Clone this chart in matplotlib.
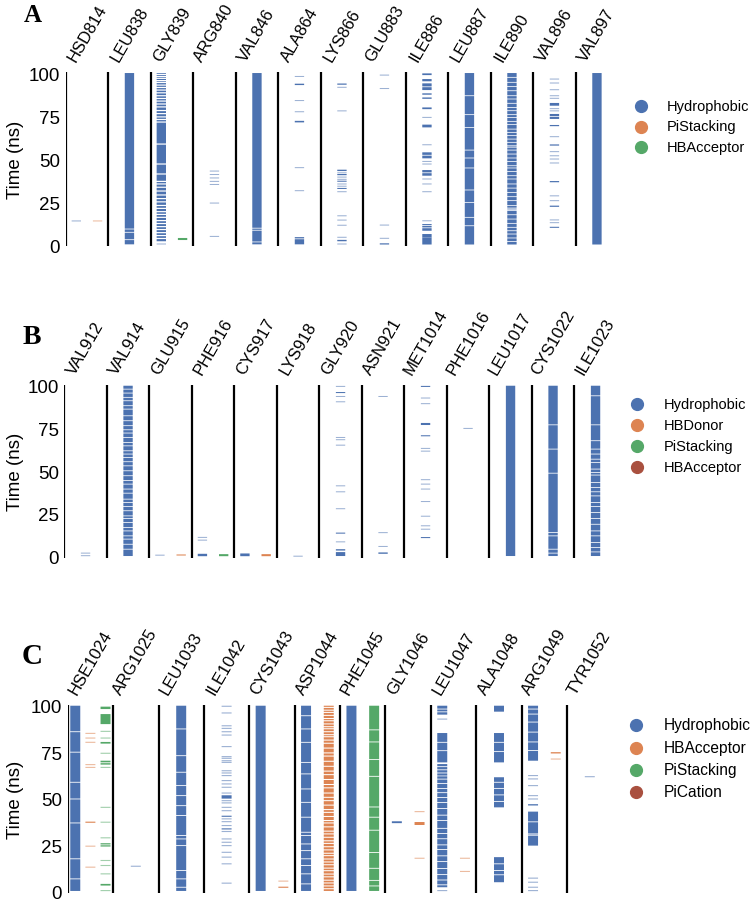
import matplotlib
matplotlib.use('Agg')
import matplotlib.pyplot as plt
from matplotlib.lines import Line2D

plt.rcParams['font.family'] = ['Liberation Sans', 'DejaVu Sans']

W, H = 756, 904
PALETTE = ['#4C72B0', '#DD8452', '#55A868', '#A9503F']
GAP = 0.45     # ns, width of a white gap inside a run
SINGLE = 0.6   # ns, height of a single-frame line

# ---------------- panel A ----------------
A_residues = ['HSD814', 'LEU838', 'GLY839', 'ARG840', 'VAL846', 'ALA864', 'LYS866',
              'GLU883', 'ILE886', 'LEU887', 'ILE890', 'VAL896', 'VAL897']
A_types = ['Hydrophobic', 'PiStacking', 'HBAcceptor']
A_events = {
    'HSD814': {'Hydrophobic': [14.0], 'PiStacking': [14.0]},
    'LEU838': {'Hydrophobic': [(0.4, 100)]},
    'GLY839': {'Hydrophobic': [0.6, (2.2, 100)], 'HBAcceptor': [(2.9, 4.1)]},
    'ARG840': {'Hydrophobic': [43.0, 41.0, 39.0, 37.0, 35.2, 24.4, 5.0]},
    'VAL846': {'Hydrophobic': [(0.4, 100)]},
    'ALA864': {'Hydrophobic': [98.0, (93.0, 93.8), 84.0, 77.5, (71.3, 72.2), 45.0, 31.6, (0.4, 4.6)]},
    'LYS866': {'Hydrophobic': [(93.2, 93.9), 91.7, 78.0, (43.0, 43.8), 42.0, (40.6, 41.3), 39.5, 38.2,
                               (36.8, 37.4), 35.5, 34.2, (32.6, 33.2), 31.0, 17.0, 14.5, 11.5, 4.5,
                               (2.2, 3.0), 0.6]},
    'GLU883': {'Hydrophobic': [98.8, 91.0, 11.6, 3.9, (0.3, 1.0)]},
    'ILE886': {'Hydrophobic': [(98.8, 99.8), (95.2, 96.5), (90.1, 94.0), (87.4, 88.2), (85.0, 85.8),
                               (79.0, 80.0), 74.2, (68.4, 70.0), 58.3, (50.4, 53.9), 48.6, 47.1,
                               (40.3, 43.6), 38.4, 35.5, 31.0, 14.1, (8.3, 12.2), (4.4, 6.4), (0.3, 4.4)]},
    'LEU887': {'Hydrophobic': [(0.3, 100)]},
    'ILE890': {'Hydrophobic': [(0.3, 100)]},
    'VAL896': {'Hydrophobic': [96.5, 94.2, 90.3, 86.8, 85.3, (81.0, 82.6), 79.3, 78.0, (73.3, 76.2),
                               (69.1, 69.8), 63.0, (57.8, 58.5), 54.3, 51.9, 50.0, 47.7, (36.5, 37.2),
                               28.6, 25.8, (22.2, 22.9), 14.6, 13.0, (10.0, 10.6)]},
    'VAL897': {'Hydrophobic': [(0.3, 100)]},
}
A_gaps = {
    ('LEU838', 'Hydrophobic'): [9.3, 7.4, 3.1],
    ('GLY839', 'Hydrophobic'): [99.2, 98.0, 96.9, 95.6, 94.5, 93.0, 91.6, 90.1, 88.5, 86.8, 85.2,
                                83.7, 82.0, 80.3, 78.2, 76.4, 74.5, 73.0, 71.5, 58.7, 47.1, 41.3,
                                37.0, 35.5, 33.6, 31.4, 29.1, 27.0, 25.1, 23.0, 21.3, 19.4, 17.8,
                                16.1, 14.2, 12.5, 10.7, 9.0, 7.2, 5.5, 3.8],
    ('VAL846', 'Hydrophobic'): [9.8, 8.6, 1.8],
    ('ALA864', 'Hydrophobic'): [3.6],
    ('ILE886', 'Hydrophobic'): [92.0, 52.2, 42.0, 10.0, 11.3],
    ('LEU887', 'Hydrophobic'): [86.8, 75.8, 68.4, 55.2, 50.6, 44.8, 32.0, 24.8, 16.1, 11.2],
    ('ILE890', 'Hydrophobic'): [97.5, 94.6, 92.1, 89.7, 86.8, 84.9, 82.4, 80.0, 78.1, 75.8, 74.2,
                                71.9, 70.0, 67.4, 65.5, 63.6, 61.6, 59.7, 57.7, 56.9, 55.2, 52.9,
                                50.6, 48.6, 46.1, 44.8, 42.8, 40.3, 38.4, 35.5, 33.1, 30.6, 28.1,
                                25.8, 22.9, 21.5, 20.8, 20.0, 17.6, 15.1, 12.6, 10.3, 8.3, 6.4,
                                4.1, 2.1],
    ('VAL896', 'Hydrophobic'): [74.8],
}

# ---------------- panel B ----------------
B_residues = ['VAL912', 'VAL914', 'GLU915', 'PHE916', 'CYS917', 'LYS918', 'GLY920',
              'ASN921', 'MET1014', 'PHE1016', 'LEU1017', 'CYS1022', 'ILE1023']
B_types = ['Hydrophobic', 'HBDonor', 'PiStacking', 'HBAcceptor']
B_events = {
    'VAL912': {'Hydrophobic': [2.0, 0.5]},
    'VAL914': {'Hydrophobic': [(0.3, 100)]},
    'GLU915': {'Hydrophobic': [0.8], 'HBDonor': [(0.6, 1.2)]},
    'PHE916': {'Hydrophobic': [11.2, 9.6, (0.2, 1.6)], 'PiStacking': [(0.2, 1.4)]},
    'CYS917': {'Hydrophobic': [(0.2, 1.8)], 'HBDonor': [(0.2, 1.4)]},
    'LYS918': {'Hydrophobic': [0.2]},
    'GLY920': {'Hydrophobic': [99.6, (95.7, 96.3), 93.7, 90.6, 69.7, 68.4, 65.2, 41.4, 37.9, 28.0,
                               (13.4, 14.0), 8.6, (3.5, 4.3), (0.3, 2.6)]},
    'ASN921': {'Hydrophobic': [93.7, 14.0, 5.9, (1.6, 2.4)]},
    'MET1014': {'Hydrophobic': [(99.3, 99.9), 92.8, 89.5, (77.0, 78.2), (70.4, 71.0), 63.3, 61.7,
                                45.0, 42.4, 39.5, 32.2, 23.6, 18.0, 16.0, (10.8, 11.4)]},
    'PHE1016': {'Hydrophobic': [75.0]},
    'LEU1017': {'Hydrophobic': [(0.3, 100)]},
    'CYS1022': {'Hydrophobic': [(0.3, 100)]},
    'ILE1023': {'Hydrophobic': [(0.3, 100)]},
}
B_gaps = {
    ('VAL914', 'Hydrophobic'): [98.0, 95.7, 93.2, 91.2, 88.3, 86.3, 82.4, 79.5, 76.6, 74.2, 72.3,
                                69.7, 66.8, 64.8, 61.9, 60.0, 58.0, 55.5, 53.1, 50.2, 47.3, 44.5,
                                42.4, 39.5, 37.1, 33.6, 31.6, 29.3, 26.8, 23.8, 22.3, 19.9, 17.0,
                                15.0, 12.1, 10.2, 7.2, 4.3],
    ('CYS1022', 'Hydrophobic'): [77.1, 62.9, 48.8, 14.1, 12.1, 4.3, 2.0],
    ('ILE1023', 'Hydrophobic'): [94.1, 77.1, 67.8, 62.9, 60.0, 57.0, 55.1, 51.2, 49.2, 47.7, 43.4,
                                 40.4, 37.9, 35.5, 31.6, 29.3, 25.8, 22.3, 18.9, 15.0, 12.1, 8.2,
                                 5.3, 2.7],
}

# ---------------- panel C ----------------
C_residues = ['HSE1024', 'ARG1025', 'LEU1033', 'ILE1042', 'CYS1043', 'ASP1044', 'PHE1045',
              'GLY1046', 'LEU1047', 'ALA1048', 'ARG1049', 'TYR1052']
C_types = ['Hydrophobic', 'HBAcceptor', 'PiStacking', 'PiCation']
C_events = {
    'HSE1024': {'Hydrophobic': [(0.3, 100)],
                'HBAcceptor': [85.1, 82.6, 80.3, 68.3, 66.8, (37.0, 37.6), 24.4, 13.1],
                'PiStacking': [(98.2, 99.5), (90.1, 95.5), 86.2, 82.6, (79.6, 80.5), 74.4,
                               (68.3, 70.4), 66.8, 45.3, 37.3, 28.9, (24.2, 26.0), 16.7, 14.0, 9.5,
                               (3.2, 4.1), 0.5]},
    'ARG1025': {'Hydrophobic': [13.6]},
    'LEU1033': {'Hydrophobic': [(0.3, 100)]},
    'ILE1042': {'Hydrophobic': [99.7, 96.1, 89.2, 87.8, 86.0, 84.2, 78.0, 72.6, 71.7, 70.4, 69.5,
                                65.0, 63.8, 62.4, 59.7, 57.9, 56.1, 53.0, (50.0, 51.8), 48.9, 47.7,
                                45.3, 43.5, (40.2, 40.8), 39.1, 37.6, 35.5, (33.4, 34.0), 32.3,
                                28.3, 26.5, 24.7, 21.1, 18.5, 14.9, 4.5]},
    'CYS1043': {'Hydrophobic': [(0.3, 100)], 'HBAcceptor': [5.6, (2.0, 2.6)]},
    'ASP1044': {'Hydrophobic': [(0.3, 100)], 'HBAcceptor': [(0.3, 100)]},
    'PHE1045': {'Hydrophobic': [(0.3, 100)], 'PiStacking': [(0.3, 100)]},
    'GLY1046': {'Hydrophobic': [(36.8, 37.8)], 'HBAcceptor': [43.0, (35.8, 37.4), 17.9]},
    'LEU1047': {'Hydrophobic': [(95.2, 100), 92.8, (69.5, 85.3), (62.4, 68.6), (2.3, 62.0), 0.5],
                'HBAcceptor': [17.9, 10.8]},
    'ALA1048': {'Hydrophobic': [(96.8, 100), (69.5, 85.3), (45.3, 61.5), (5.0, 18.5)]},
    'ARG1049': {'Hydrophobic': [(70.4, 100), 62.4, 60.6, 57.0, 51.6, 49.8, (46.3, 47.0),
                                (24.7, 43.0), 7.2, 5.0, 2.3, 0.5],
                'HBAcceptor': [(74.3, 75.0), 71.3]},
    'TYR1052': {'Hydrophobic': [61.8]},
}
C_gaps = {
    ('HSE1024', 'Hydrophobic'): [86.0, 75.0, 58.8, 49.8, 36.9, 17.6, 6.8],
    ('HSE1024', 'PiStacking'): [69.3, 25.1],
    ('LEU1033', 'Hydrophobic'): [87.5, 73.1, 64.2, 57.0, 51.6, 46.2, 40.9, 30.1, 28.3, 24.7,
                                 11.3, 6.8, 2.3],
    ('ASP1044', 'Hydrophobic'): [94.6, 87.5, 80.3, 69.5, 63.3, 55.2, 48.0, 40.0, 31.9, 30.1,
                                 25.6, 22.0, 17.6, 14.0, 9.5, 4.1],
    ('ASP1044', 'HBAcceptor'): [99.1, 97.6, 96.4, 94.8, 93.1, 91.9, 90.2, 88.7, 87.6, 86.0, 84.4,
                                83.3, 81.5, 79.8, 77.2, 74.6, 72.9, 70.1, 67.4, 64.8, 62.9, 60.3,
                                57.6, 55.8, 53.0, 50.7, 48.9, 46.5, 44.1, 42.6, 40.4, 38.2, 36.9,
                                34.8, 32.5, 31.0, 29.2, 27.3, 25.9, 24.1, 22.4, 20.6, 19.3, 17.5,
                                15.9, 14.4, 12.6, 11.2, 9.4, 7.9, 6.1, 4.6, 3.0, 1.5],
    ('PHE1045', 'PiStacking'): [87.0, 80.5, 71.0, 62.0, 45.5, 40.0, 33.0, 21.0, 12.5, 6.0, 3.0],
    ('LEU1047', 'Hydrophobic'): [98.2, 96.7, 80.3, 75.8, 67.2, 65.5, 63.8, 60.5, 58.1, 55.4, 53.2,
                                 50.6, 47.9, 44.7, 41.1, 38.2, 34.0, 31.2, 28.4, 25.1, 22.6, 19.2,
                                 16.1, 12.4, 9.1, 6.2, 3.6],
    ('ALA1048', 'Hydrophobic'): [80.3, 75.3, 58.8, 55.5, 52.0, 48.5, 14.9, 11.3, 9.0],
    ('ARG1049', 'Hydrophobic'): [98.2, 95.5, 91.2, 85.8, 80.5, 75.9, 37.5, 30.3, 31.0],
}

# wider white gaps for the visibly more broken columns
WIDE_GAPS = {('GLY839', 'Hydrophobic'): 0.7, ('ASP1044', 'HBAcceptor'): 0.55}


def split_runs(items, gaps, gap_w):
    """Return (runs, singles): runs are solid spans cut by gaps, singles are one-frame lines."""
    runs, singles = [], []
    for it in items:
        if isinstance(it, tuple):
            a, b = it
            start = a
            for g in sorted(g for g in gaps if a < g < b):
                runs.append((start, g - gap_w / 2))
                start = g + gap_w / 2
            runs.append((start, b))
        else:
            singles.append((it - SINGLE / 2, it + SINGLE / 2))
    return runs, singles


def draw_panel(ax, residues, types, events, gaps):
    for i, res in enumerate(residues):
        ax.axvline(i, color='black', lw=1.6, zorder=1)
        present = [t for t in types if t in events.get(res, {})]
        for j, t in enumerate(present):
            xc = i + (j + 0.5) / len(present)
            color = PALETTE[types.index(t)]
            runs, singles = split_runs(events[res][t], gaps.get((res, t), []),
                                       WIDE_GAPS.get((res, t), GAP))
            for spans, alpha in [(runs, 1.0), (singles, 0.55)]:
                if spans:
                    ax.bar([xc] * len(spans), [b - a for a, b in spans],
                           bottom=[a for a, _ in spans], width=0.22, color=color,
                           alpha=alpha, linewidth=0, snap=False, zorder=2)

    ax.set_xlim(0, len(residues))
    ax.set_ylim(-0.8, 100.6)
    ax.set_yticks([0, 25, 50, 75, 100])
    ax.tick_params(axis='y', length=0, pad=4, labelsize=13.5)
    ax.xaxis.tick_top()
    ax.set_xticks([i + 0.5 for i in range(len(residues))])
    ax.set_xticklabels(residues, rotation=60, ha='center', fontsize=12)
    ax.tick_params(axis='x', length=0, pad=6)
    for s in ax.spines.values():
        s.set_visible(False)


def add_legend(fig, types, x_marker, x_text, ys, fontsize):
    for k, (t, y) in enumerate(zip(types, ys)):
        fig.add_artist(Line2D([x_marker / W], [1 - y / H], marker='o', ms=8.5, lw=0,
                              color=PALETTE[k], transform=fig.transFigure))
        fig.text(x_text / W, 1 - y / H, t, fontsize=fontsize, va='center', ha='left')


fig = plt.figure(figsize=(W / 100, H / 100), dpi=100)
fig.patch.set_facecolor('white')


def px_axes(left, top, right, bottom):
    return fig.add_axes([left / W, 1 - bottom / H, (right - left) / W, (bottom - top) / H])


axA = px_axes(65.7, 73.0, 65.7 + 13 * 42.5, 247.4)
axB = px_axes(64.3, 385.7, 64.3 + 13 * 42.5, 558.9)
axC = px_axes(67.7, 705.6, 67.7 + 12 * 45.4, 894.0)

draw_panel(axA, A_residues, A_types, A_events, A_gaps)
draw_panel(axB, B_residues, B_types, B_events, B_gaps)
draw_panel(axC, C_residues, C_types, C_events, C_gaps)

for ax, yc in [(axA, 160), (axB, 472), (axC, 800)]:
    fig.text(15 / W, 1 - yc / H, 'Time (ns)', rotation=90, fontsize=13.5, ha='center', va='center')

add_legend(fig, A_types, 641, 667, [107, 127.5, 148], 10.5)
add_legend(fig, B_types, 637, 664, [405, 426, 447, 468], 10.5)
add_legend(fig, C_types, 636, 664, [726, 749, 771, 793], 11.2)

for letter, (x, y, fs) in zip('ABC', [(33, 15, 18), (32, 338, 20), (32, 656, 21)]):
    fig.text(x / W, 1 - y / H, letter, fontsize=fs, fontweight='bold', ha='center', va='center',
             family=['Liberation Serif', 'DejaVu Serif'])

fig.savefig('out.png', dpi=100, facecolor='white')
